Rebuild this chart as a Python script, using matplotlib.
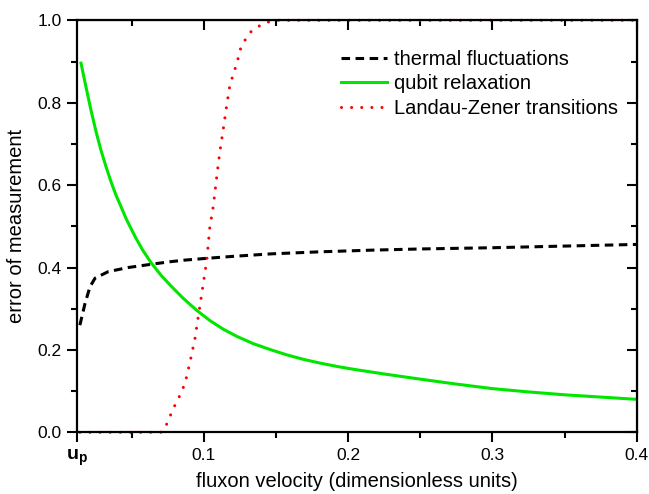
import matplotlib
matplotlib.use('Agg')
import matplotlib.pyplot as plt
from matplotlib.ticker import MultipleLocator

plt.rcParams['font.family'] = ['Liberation Sans', 'DejaVu Sans']
plt.rcParams['mathtext.default'] = 'regular'

# data
u_p = 0.012

thermal_x = [0.014, 0.0176, 0.021, 0.0245, 0.0337, 0.0476, 0.0638, 0.0765, 0.087,
             0.101, 0.12, 0.146, 0.18, 0.215, 0.25, 0.3, 0.35, 0.4]
thermal_y = [0.26, 0.313, 0.353, 0.374, 0.39, 0.40, 0.408, 0.414, 0.418,
             0.422, 0.427, 0.433, 0.438, 0.442, 0.445, 0.448, 0.452, 0.456]

qubit_x = [0.0148, 0.0182, 0.0217, 0.0252, 0.0286, 0.0321, 0.0356, 0.039, 0.0425,
           0.046, 0.0494, 0.0529, 0.0576, 0.0633, 0.0703, 0.0772, 0.0857, 0.095,
           0.1042, 0.1135, 0.1227, 0.1343, 0.1458, 0.1574, 0.169, 0.1805, 0.192,
           0.2036, 0.225, 0.25, 0.275, 0.3, 0.325, 0.35, 0.375, 0.4]
qubit_y = [0.896, 0.839, 0.782, 0.730, 0.685, 0.645, 0.608, 0.576, 0.548,
           0.519, 0.495, 0.471, 0.442, 0.412, 0.381, 0.355, 0.325, 0.296,
           0.271, 0.25, 0.233, 0.215, 0.201, 0.188, 0.177, 0.168, 0.16,
           0.153, 0.1415, 0.129, 0.117, 0.106, 0.098, 0.091, 0.0855, 0.080]

lz_x = [0.014, 0.07, 0.073, 0.0788, 0.0834, 0.0869, 0.0904, 0.0938, 0.0961,
        0.0996, 0.102, 0.104, 0.1066, 0.1093, 0.1112, 0.1135, 0.1158, 0.118,
        0.1209, 0.1232, 0.125, 0.1285, 0.1325, 0.1377, 0.1435, 0.15, 0.4]
lz_y = [0.0, 0.0, 0.01, 0.058, 0.09, 0.119, 0.171, 0.228, 0.281,
        0.362, 0.418, 0.495, 0.552, 0.633, 0.685, 0.738, 0.794, 0.843,
        0.875, 0.9, 0.928, 0.952, 0.972, 0.985, 0.995, 1.0, 1.0]

x_ticks = [u_p, 0.1, 0.2, 0.3, 0.4]
x_ticklabels = ['u$_p$', '0.1', '0.2', '0.3', '0.4']
y_ticks = [0.0, 0.2, 0.4, 0.6, 0.8, 1.0]
y_ticklabels = ['0.0', '0.2', '0.4', '0.6', '0.8', '1.0']

fig = plt.figure(figsize=(6.49, 4.94), dpi=100)
ax = fig.add_axes([0.1186, 0.1249, 0.8625, 0.834])

ax.plot(thermal_x, thermal_y, color='black', lw=2.2, linestyle=(0, (2.8, 1.8)),
        label='thermal fluctuations')
ax.plot(qubit_x, qubit_y, color='#00e600', lw=2.2, label='qubit relaxation')
ax.plot(lz_x, lz_y, color='#ff0000', lw=2.2, linestyle=(0, (0.01, 3.3)),
        dash_capstyle='round', label='Landau-Zener transitions', clip_on=False)

ax.set_xlim(u_p, 0.4)
ax.set_ylim(0, 1.0)
ax.xaxis.set_minor_locator(MultipleLocator(0.05))
ax.yaxis.set_minor_locator(MultipleLocator(0.1))

for spine in ax.spines.values():
    spine.set_linewidth(1.6)
ax.tick_params(which='major', direction='out', length=7, width=1.5, labelsize=12.5, pad=4)
ax.tick_params(which='minor', direction='out', length=4.5, width=1.5)

ax.set_xticks(x_ticks)
ax.set_xticklabels(x_ticklabels)
ax.set_yticks(y_ticks)
ax.set_yticklabels(y_ticklabels)
# the u_p label is drawn heavier and larger in the original
up_label = ax.get_xticklabels()[0]
up_label.set_fontweight('bold')
up_label.set_fontsize(14)

# mirrored top/right axes with inward ticks (Origin style)
top = ax.secondary_xaxis('top')
top.set_xticks(x_ticks[1:])
top.xaxis.set_minor_locator(MultipleLocator(0.05))
top.tick_params(which='major', direction='in', length=7, width=1.5, labeltop=False)
top.tick_params(which='minor', direction='in', length=4.5, width=1.5)
right = ax.secondary_yaxis('right')
right.set_yticks(y_ticks)
right.yaxis.set_minor_locator(MultipleLocator(0.1))
right.tick_params(which='major', direction='in', length=7, width=1.5, labelright=False)
right.tick_params(which='minor', direction='in', length=4.5, width=1.5)

ax.set_xlabel('fluxon velocity (dimensionless units)', fontsize=14.5, labelpad=3)
ax.set_ylabel('error of measurement', fontsize=14.5, labelpad=8)

ax.legend(loc='upper left', bbox_to_anchor=(0.471, 0.928), frameon=False,
          borderpad=0, borderaxespad=0,
          fontsize=14.5, handlelength=2.3, handletextpad=0.35, labelspacing=0.27)

fig.savefig('out.png', dpi=100)
